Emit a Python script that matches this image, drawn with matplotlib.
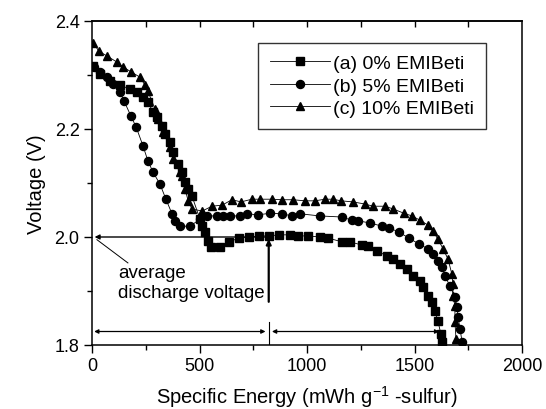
import matplotlib
matplotlib.use("Agg")
import matplotlib.pyplot as plt

plt.rcParams['font.family'] = ['Liberation Sans', 'DejaVu Sans']
plt.rcParams['mathtext.default'] = 'regular'

# (a) 0% EMIBeti
xa = [5, 37, 84, 130, 177, 209, 237, 260, 284, 302, 326, 340, 363, 377, 400, 419, 433, 447, 465,
      502, 512, 526, 540, 553, 595, 637, 684, 730, 777, 823, 870, 921, 958, 1005, 1060, 1098,
      1163, 1200, 1256, 1284, 1326, 1372, 1400, 1433, 1465, 1493, 1526, 1540, 1563, 1581, 1595,
      1609, 1623, 1628]
ya = [2.317, 2.302, 2.289, 2.281, 2.274, 2.269, 2.259, 2.250, 2.231, 2.222, 2.206, 2.191, 2.176,
      2.157, 2.135, 2.120, 2.102, 2.089, 2.076,
      2.033, 2.020, 2.009, 1.993, 1.981, 1.981, 1.991, 1.998, 2.000, 2.002, 2.002, 2.004, 2.004,
      2.002, 2.002, 2.000, 1.998,
      1.991, 1.991, 1.985, 1.983, 1.974, 1.965, 1.959, 1.950, 1.941, 1.928, 1.919, 1.907, 1.891,
      1.880, 1.863, 1.844, 1.820, 1.806]

# (b) 5% EMIBeti
xb = [9, 37, 70, 98, 130, 149, 181, 205, 237, 260, 284, 316, 344, 372, 386, 409, 456, 502, 535,
      581, 609, 642, 688, 721, 772, 828, 884, 930, 967, 1060, 1163, 1209, 1237, 1293, 1349, 1381,
      1428, 1474, 1521, 1563, 1586, 1609, 1628, 1642, 1665, 1688, 1698, 1702, 1712, 1721]
yb = [2.315, 2.306, 2.296, 2.283, 2.269, 2.252, 2.224, 2.204, 2.169, 2.141, 2.120, 2.098, 2.070,
      2.043, 2.030, 2.020, 2.020, 2.033, 2.039, 2.039, 2.039, 2.039, 2.039, 2.043, 2.041, 2.044,
      2.043, 2.039, 2.043, 2.039, 2.037, 2.031, 2.030, 2.026, 2.020, 2.017, 2.009, 1.998, 1.987,
      1.978, 1.969, 1.956, 1.944, 1.928, 1.909, 1.889, 1.870, 1.852, 1.830, 1.806]

# (c) 10% EMIBeti
xc = [5, 33, 70, 116, 144, 181, 223, 247, 260, 293, 307, 330, 363, 377, 409, 419, 433, 447, 465,
      512, 558, 605, 651, 693, 744, 781, 837, 884, 935, 991, 1037, 1084, 1121, 1158, 1214, 1270,
      1307, 1363, 1400, 1451, 1488, 1526, 1563, 1586, 1609, 1633, 1656, 1674, 1679, 1679, 1688,
      1688, 1693]
yc = [2.359, 2.344, 2.335, 2.324, 2.315, 2.306, 2.296, 2.281, 2.270, 2.237, 2.219, 2.194, 2.167,
      2.144, 2.120, 2.113, 2.089, 2.067, 2.052, 2.048, 2.057, 2.059, 2.069, 2.065, 2.070, 2.070,
      2.070, 2.069, 2.069, 2.067, 2.067, 2.070, 2.070, 2.067, 2.065, 2.061, 2.057, 2.057, 2.052,
      2.044, 2.039, 2.031, 2.022, 2.011, 1.996, 1.978, 1.959, 1.931, 1.913, 1.891, 1.872, 1.843,
      1.811]

labels = ['(a) 0% EMIBeti', '(b) 5% EMIBeti', '(c) 10% EMIBeti']
x_ticks = [0, 500, 1000, 1500, 2000]
y_ticks = [1.8, 2.0, 2.2, 2.4]
avg_voltage = 2.0
avg_energy = 822
arrow_y = 1.825
end_a = 1615

fig = plt.figure(figsize=(5.46, 4.10), dpi=100)
ax = fig.add_axes([92/546, 1-346/410, 430/546, 324/410])

lk = dict(color='black', lw=0.6, mec='black', mfc='black')
ax.plot(xa, ya, marker='s', label=labels[0], ms=5.4, **lk)
ax.plot(xb, yb, marker='o', label=labels[1], ms=5.8, **lk)
ax.plot(xc, yc, marker='^', label=labels[2], ms=6.2, **lk)

ax.set_xlim(0, 2000)
ax.set_ylim(1.8, 2.4)
ax.set_xticks(x_ticks)
ax.set_xticks([250, 750, 1250, 1750], minor=True)
ax.set_yticks(y_ticks)
ax.set_yticks([1.9, 2.1, 2.3], minor=True)
ax.set_yticklabels(['1.8', '2.0', '2.2', '2.4'])
ax.tick_params(which='major', direction='out', length=6, width=1, labelsize=13, right=False, top=False, pad=3)
ax.tick_params(which='minor', direction='out', length=3.5, width=1, right=False, top=False)
for s in ax.spines.values():
    s.set_linewidth(1.1)

sec = ax.secondary_xaxis('top')
sec.set_xticks([250, 500, 750, 1000, 1250, 1500, 1750])
sec.tick_params(direction='in', length=4, width=1, labeltop=False)
sec.set_xticklabels([])
sec.spines['top'].set_linewidth(1.1)

ax.set_xlabel('Specific Energy (mWh g$^{-1}$ -sulfur)', fontsize=14.5, labelpad=6)
ax.set_ylabel('Voltage (V)', fontsize=14.5, labelpad=6)

# annotations
ax.annotate('', xy=(12, avg_voltage), xytext=(avg_energy, avg_voltage),
            arrowprops=dict(arrowstyle='-|>', color='black', lw=1.0, mutation_scale=7,
                            shrinkA=0, shrinkB=0))
ax.plot([23, 167], [1.995, 1.952], color='black', lw=0.7)
ax.annotate('', xy=(avg_energy, 1.996), xytext=(avg_energy, 1.880),
            arrowprops=dict(arrowstyle='-|>', color='black', lw=1.6, mutation_scale=7,
                            shrinkA=0, shrinkB=0))
ax.plot([avg_energy, avg_energy], [1.8, 1.843], color='black', lw=0.8)
ax.annotate('', xy=(10, arrow_y), xytext=(avg_energy - 15, arrow_y),
            arrowprops=dict(arrowstyle='<|-|>', color='black', lw=0.9, mutation_scale=6,
                            shrinkA=0, shrinkB=0))
ax.annotate('', xy=(avg_energy + 15, arrow_y), xytext=(end_a, arrow_y),
            arrowprops=dict(arrowstyle='<|-|>', color='black', lw=0.9, mutation_scale=6,
                            shrinkA=0, shrinkB=0))
ax.text(121, 1.935, 'average', fontsize=13.5, ha='left', va='center')
ax.text(121, 1.898, 'discharge voltage', fontsize=13.5, ha='left', va='center')

leg = ax.legend(loc='upper left', bbox_to_anchor=((258-92)/430, (346-44)/324), fontsize=14,
                frameon=True, fancybox=False, edgecolor='black', handlelength=3.1,
                handletextpad=0.15, labelspacing=0.25, borderpad=0.6, borderaxespad=0)
leg.get_frame().set_linewidth(1.0)

fig.savefig('out.png', dpi=100)
